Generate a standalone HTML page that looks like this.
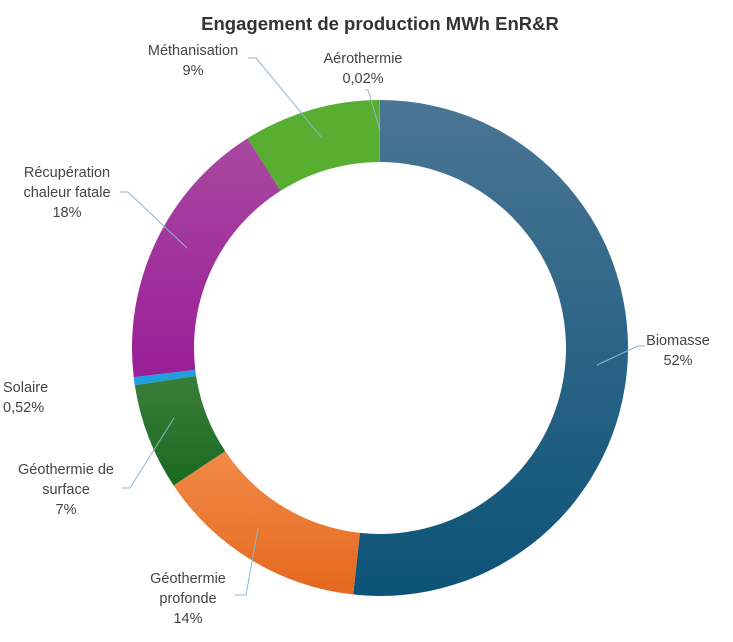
<!DOCTYPE html>
<html><head><meta charset="utf-8"><style>
html,body{margin:0;padding:0;background:#fff;}
svg{display:block;font-family:"Liberation Sans",sans-serif;}
</style></head><body>
<svg id="chart" width="733" height="642" viewBox="0 0 733 642">
<defs>
<linearGradient id="gBio" x1="0" y1="0" x2="0" y2="1"><stop offset="0" stop-color="#4b7594"/><stop offset="1" stop-color="#0b5377"/></linearGradient>
<linearGradient id="gOr" x1="0" y1="0" x2="0" y2="1"><stop offset="0" stop-color="#f28a48"/><stop offset="1" stop-color="#e4681e"/></linearGradient>
<linearGradient id="gPu" x1="0" y1="0" x2="0" y2="1"><stop offset="0" stop-color="#a848a0"/><stop offset="1" stop-color="#9a1e98"/></linearGradient>
<linearGradient id="gDg" x1="0" y1="0" x2="0" y2="1"><stop offset="0" stop-color="#3a7e3a"/><stop offset="1" stop-color="#1a6a22"/></linearGradient>
</defs>
<text x="380" y="30" text-anchor="middle" font-size="18.5" font-weight="bold" fill="#333">Engagement de production MWh EnR&amp;R</text>
<g id="slices"></g>
<g id="labels" font-size="14.5" fill="#444"></g>
</svg>
<script>
const categories=["Biomasse","Géothermie profonde","Géothermie de surface","Solaire","Récupération chaleur fatale","Méthanisation","Aérothermie"];
const values=[52,14,7,0.52,18,9,0.02];
const valueLabels=["52%","14%","7%","0,52%","18%","9%","0,02%"];
const colors=["url(#gBio)","url(#gOr)","url(#gDg)","#1ea0e0","url(#gPu)","#58ae30","#7fb0d0"];
const cx=380,cy=348,R=248,r=186;
const ns="http://www.w3.org/2000/svg";
const total=values.reduce((a,b)=>a+b,0);
function pt(a,rad){return [cx+rad*Math.sin(a),cy-rad*Math.cos(a)];}
let acc=0;
const g=document.getElementById('slices');
values.forEach((v,i)=>{
  const a0=acc/total*2*Math.PI; acc+=v; const a1=acc/total*2*Math.PI;
  const large=(a1-a0)>Math.PI?1:0;
  const p0=pt(a0,R),p1=pt(a1,R),q1=pt(a1,r),q0=pt(a0,r);
  const p=document.createElementNS(ns,'path');
  p.setAttribute('d',`M${p0[0]},${p0[1]}A${R},${R} 0 ${large} 1 ${p1[0]},${p1[1]}L${q1[0]},${q1[1]}A${r},${r} 0 ${large} 0 ${q0[0]},${q0[1]}Z`);
  p.setAttribute('fill',colors[i]);
  
  
  g.appendChild(p);
});
const layout=[
 {lines:[[678,345],[678,365]],anchor:"middle",line:[[645,346],[638,346],[597,365]]},
 {lines:[[188,583],[188,603],[188,623]],anchor:"middle",line:[[235,595],[246,595],[258,528]]},
 {lines:[[66,474],[66,494],[66,514]],anchor:"middle",line:[[122,488],[130,488],[174,418]]},
 {lines:[[3,392],[3,412]],anchor:"start",line:null},
 {lines:[[67,177],[67,197],[67,217]],anchor:"middle",line:[[120,192],[128,192],[187,248]]},
 {lines:[[193,55],[193,75]],anchor:"middle",line:[[248,58],[256,58],[322,138]]},
 {lines:[[363,63],[363,83]],anchor:"middle",line:[[365,90],[368,90],[380,130]]}
];
const splits=[["Biomasse"],["Géothermie","profonde"],["Géothermie de","surface"],["Solaire"],["Récupération","chaleur fatale"],["Méthanisation"],["Aérothermie"]];
const lg=document.getElementById('labels');
layout.forEach((L,i)=>{
  const txts=splits[i].concat([valueLabels[i]]);
  txts.forEach((t,j)=>{
    const e=document.createElementNS(ns,'text');
    e.setAttribute('x',L.lines[j][0]);e.setAttribute('y',L.lines[j][1]);
    e.setAttribute('text-anchor',L.anchor);e.textContent=t;
    
    
    lg.appendChild(e);
  });
  if(L.line){
    const l=document.createElementNS(ns,'polyline');
    l.setAttribute('points',L.line.map(p=>p.join(',')).join(' '));
    l.setAttribute('fill','none');
    l.setAttribute('stroke','#8fb6cc');l.setAttribute('stroke-width','1');
    
    
    lg.appendChild(l);
  }
});
</script>
</body></html>
